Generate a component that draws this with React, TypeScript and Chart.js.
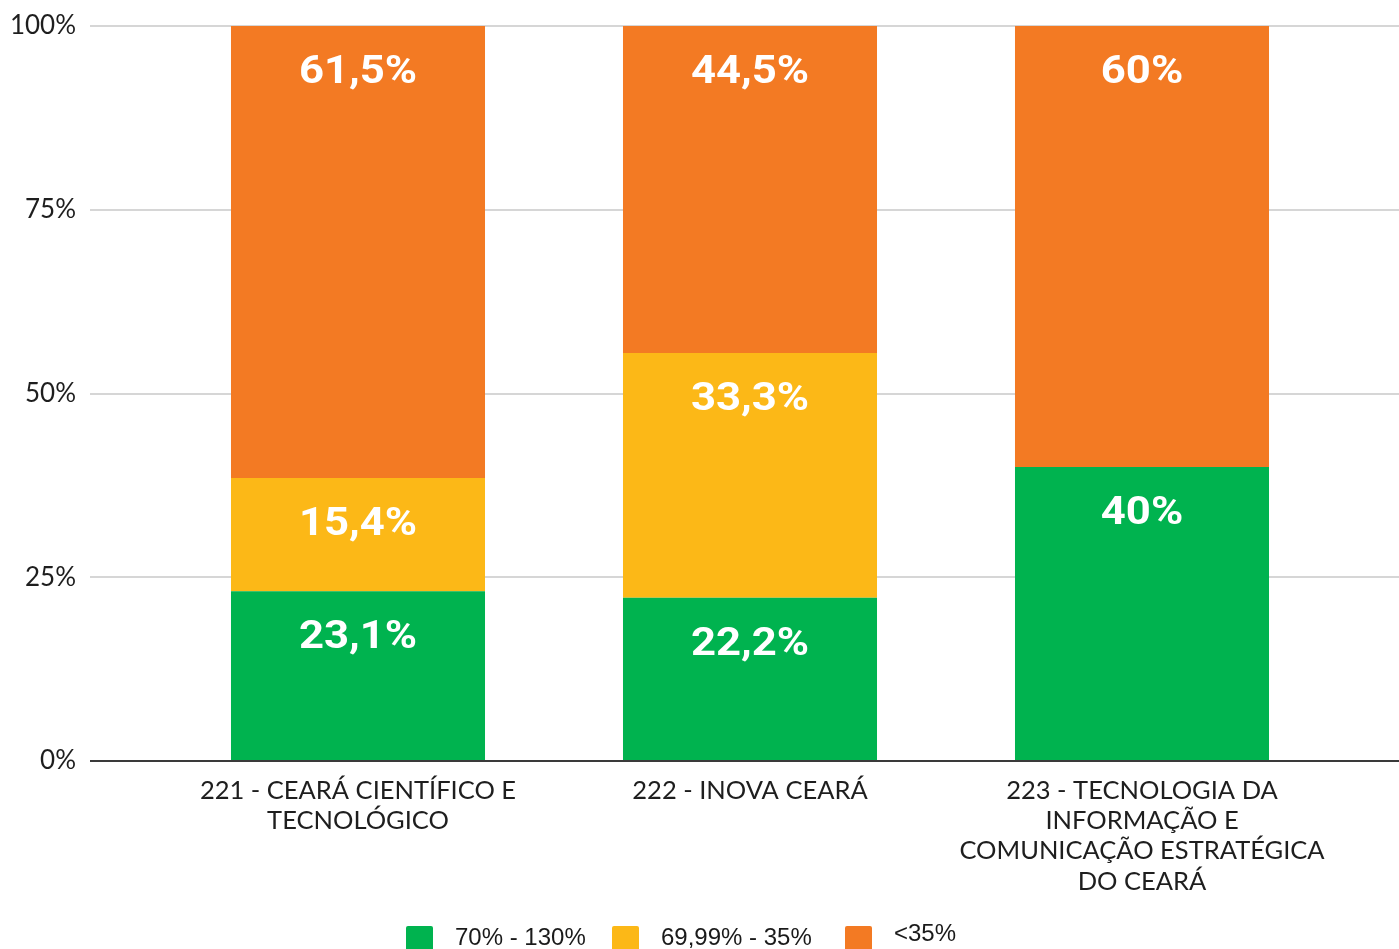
import React, { useEffect, useRef } from "react";
import { Chart, registerables } from "chart.js";

Chart.register(...registerables);

const categories: string[][] = [
  ["221 - CEARÁ CIENTÍFICO E", "TECNOLÓGICO"],
  ["222 - INOVA CEARÁ"],
  ["223 - TECNOLOGIA DA", "INFORMAÇÃO E", "COMUNICAÇÃO ESTRATÉGICA", "DO CEARÁ"],
];
const seriesNames = ["70% - 130%", "69,99% - 35%", "<35%"];
const greenValues = [23.1, 22.2, 40];
const yellowValues = [15.4, 33.3, 0];
const orangeValues = [61.5, 44.5, 60];
const yTicks = [0, 25, 50, 75, 100];

const GREEN = "#00B34F";
const YELLOW = "#FCB817";
const ORANGE = "#F37A23";
const GRID = "#d6d6d6";
const ZERO = "#3a3a3a";

const W = 1399;
const H = 949;

const LEGEND_X = [406, 612, 845];

const fmt = (v: number) => String(v).replace(".", ",") + "%";

const valueLabels = {
  id: "valueLabels",
  afterDatasetsDraw(chart: any) {
    const ctx = chart.ctx;
    ctx.save();
    ctx.fillStyle = "#ffffff";
    ctx.font = "bold 39px Roboto";
    ctx.textAlign = "center";
    ctx.textBaseline = "middle";
    chart.data.datasets.forEach((ds: any, di: number) => {
      const meta = chart.getDatasetMeta(di);
      meta.data.forEach((el: any, i: number) => {
        const v = ds.data[i];
        if (!v) return;
        ctx.save();
        ctx.translate(el.x, el.y + 47);
        ctx.scale(1.12, 1);
        ctx.fillText(fmt(v), 0, 0);
        ctx.restore();
      });
    });
    ctx.restore();
  },
};

const gridExtend = {
  id: "gridExtend",
  beforeDatasetsDraw(chart: any) {
    const ctx = chart.ctx;
    const y = chart.scales.y;
    const { right } = chart.chartArea;
    ctx.save();
    ctx.lineWidth = 2;
    y.ticks.forEach((t: any) => {
      const py = Math.round(y.getPixelForValue(t.value));
      ctx.strokeStyle = t.value === 0 ? ZERO : GRID;
      ctx.beginPath();
      ctx.moveTo(right, py);
      ctx.lineTo(chart.width, py);
      ctx.stroke();
    });
    ctx.restore();
  },
};

const bottomLegend = {
  id: "bottomLegend",
  afterDraw(chart: any) {
    const ctx = chart.ctx;
    ctx.save();
    ctx.font = "24px 'Liberation Sans', Arial, sans-serif";
    ctx.textBaseline = "middle";
    ctx.textAlign = "left";
    const boxTop = 926;
    const box = 27;
    chart.data.datasets.forEach((ds: any, i: number) => {
      const x = LEGEND_X[i];
      ctx.fillStyle = ds.backgroundColor;
      ctx.beginPath();
      if (ctx.roundRect) ctx.roundRect(x, boxTop, box, box, 2);
      else ctx.rect(x, boxTop, box, box);
      ctx.fill();
      ctx.fillStyle = "#1a1a1a";
      const tx = x + box + 22;
      const dy = i === 2 ? -4 : 0;
      ctx.fillText(ds.label, tx, boxTop + box / 2 - 1 + dy);
    });
    ctx.restore();
  },
};

export default function App() {
  const ref = useRef<HTMLCanvasElement | null>(null);

  useEffect(() => {
    if (!ref.current) return;
    const chart = new Chart(ref.current, {
      type: "bar",
      data: {
        labels: categories,
        datasets: [
          { label: seriesNames[0], data: greenValues, backgroundColor: GREEN },
          { label: seriesNames[1], data: yellowValues, backgroundColor: YELLOW },
          { label: seriesNames[2], data: orangeValues, backgroundColor: ORANGE },
        ],
      },
      options: {
        responsive: false,
        animation: false,
        layout: { padding: { top: 26, right: 61, left: 0, bottom: 0 } },
        datasets: {
          bar: { categoryPercentage: 1, barPercentage: 0.648 },
        },
        plugins: {
          legend: { display: false },
          tooltip: { enabled: false },
        },
        scales: {
          x: {
            stacked: true,
            grid: { display: false, drawTicks: false },
            border: { display: false },
            ticks: {
              autoSkip: false,
              maxRotation: 0,
              minRotation: 0,
              padding: 15,
              color: "#1e1e1e",
              font: { family: "Lato", size: 25.5, lineHeight: 1.18 },
            },
            afterFit: (s: any) => {
              s.height = H - 761;
            },
          },
          y: {
            stacked: true,
            min: 0,
            max: 100,
            afterBuildTicks: (s: any) => {
              s.ticks = yTicks.map((v) => ({ value: v }));
            },
            grid: {
              color: (c: any) => (c.tick && c.tick.value === 0 ? ZERO : GRID),
              tickColor: (c: any) => (c.tick && c.tick.value === 0 ? ZERO : GRID),
              lineWidth: 2,
              tickWidth: 2,
              drawTicks: true,
              tickLength: 72,
            },
            border: { display: false },
            ticks: {
              padding: 14,
              color: "#1e1e1e",
              font: { family: "Lato", size: 26, lineHeight: 0.8 },
              callback: (v: any) => v + "%",
            },
            afterFit: (s: any) => {
              s.width = 162;
            },
          },
        },
      },
      plugins: [gridExtend, valueLabels, bottomLegend],
    });
    const fonts = ["bold 39px Roboto", "25.5px Lato", "26px Lato", "24px 'Liberation Sans'"];
    Promise.all(fonts.map((f) => (document as any).fonts.load(f)))
      .then(() => chart.update())
      .catch(() => {});
    return () => chart.destroy();
  }, []);

  return (
    <div style={{ position: "absolute", left: 0, top: 0, width: W, height: H, background: "#fff" }}>
      <canvas ref={ref} width={W} height={H} style={{ display: "block" }} />
    </div>
  );
}
